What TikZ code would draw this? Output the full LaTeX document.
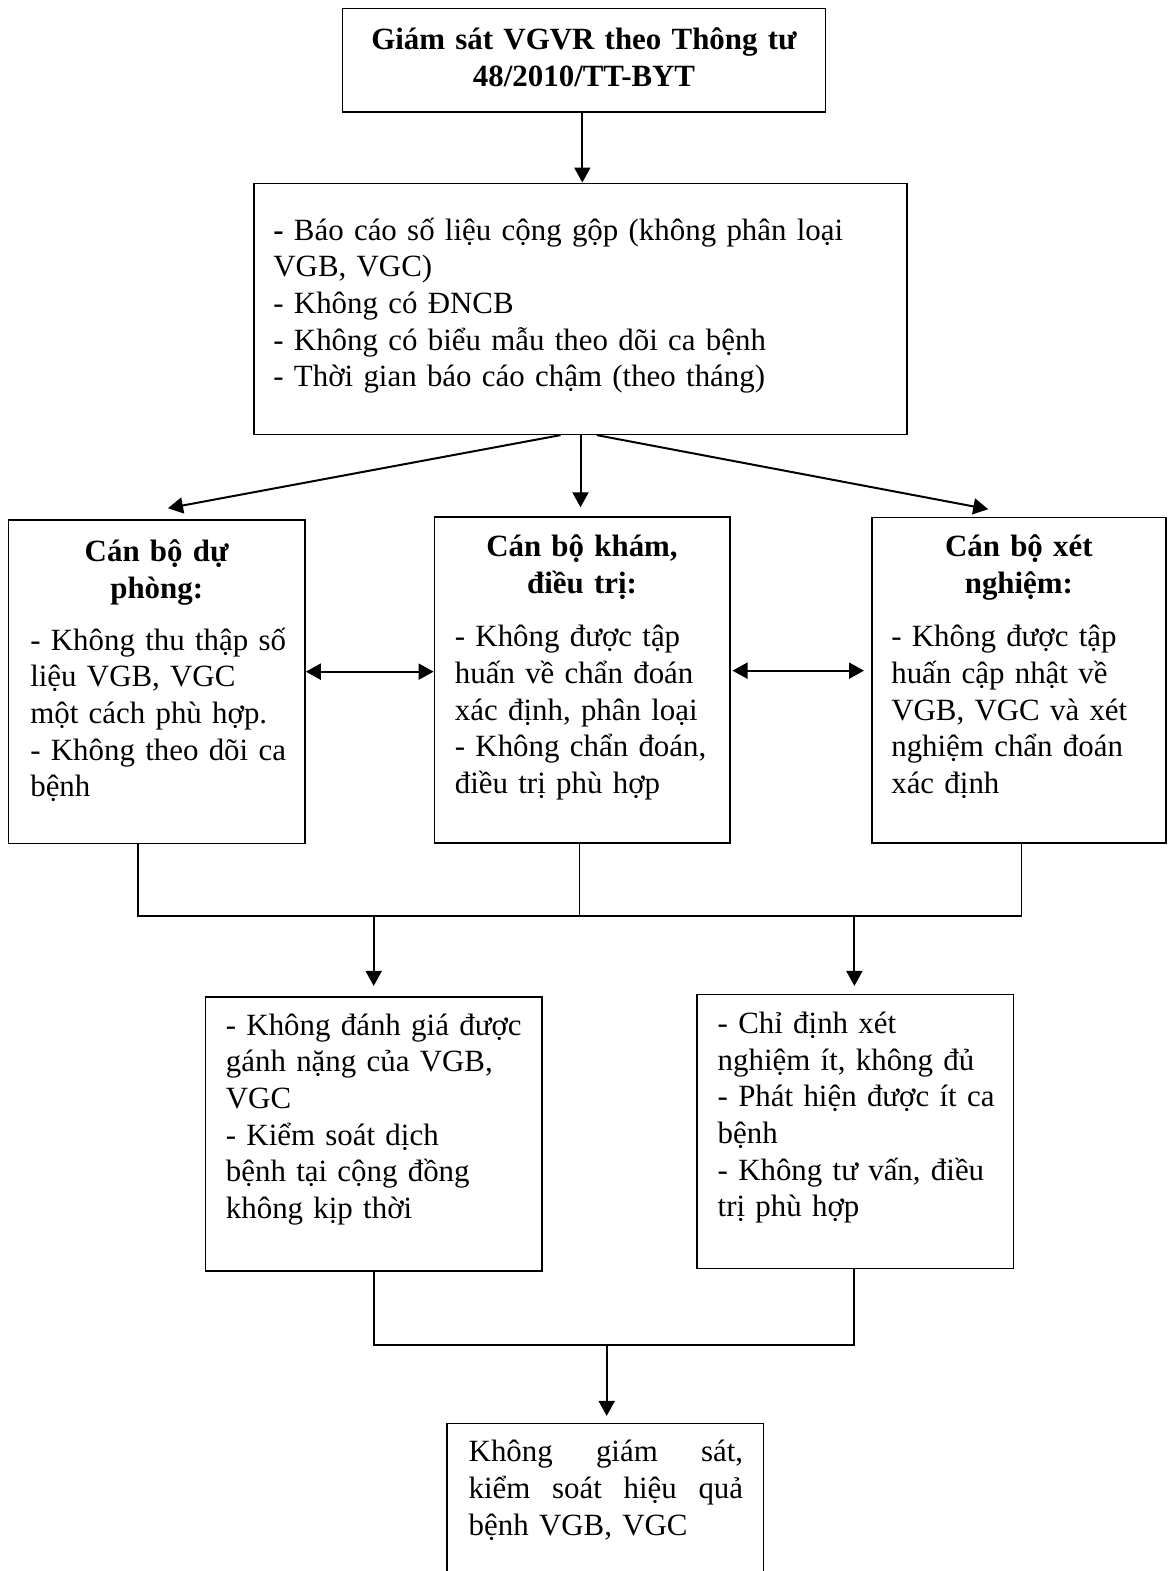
\documentclass[tikz,border=0pt]{standalone}
\usepackage{fontspec}
\setmainfont{Liberation Serif}
\usetikzlibrary{arrows.meta,fit}
\begin{document}
\begin{tikzpicture}[x=0.5pt,y=-0.5pt,
  box/.style={draw, line width=0.8pt, inner sep=0pt},
  arr/.style={-{Triangle[length=7.5pt,width=8pt]}, line width=1pt},
  darr/.style={{Triangle[length=7.5pt,width=8pt]}-{Triangle[length=7.5pt,width=8pt]}, line width=1pt},
  conn/.style={line width=0.8pt},
  body/.style={anchor=base west, inner sep=0pt, align=left, text width=#1, font=\fontsize{15.45pt}{18.35pt}\selectfont},
  head/.style={anchor=base, inner sep=0pt, align=center, text width=#1, font=\bfseries\fontsize{15.45pt}{18.35pt}\selectfont}]
\useasboundingbox (0,0) rectangle (1169,1571);
\clip (0,0) rectangle (1169,1571);
% boxes
\node[box, fit={(342.6,8.3) (825.3,111.7)}] (top) {};
\node[box, fit={(254,183.3) (907,434.3)}] (b2) {};
\node[box, fit={(8.4,520) (305,843.3)}] (L) {};
\node[box, fit={(434.4,516.7) (729.7,843)}] (M) {};
\node[box, fit={(871.8,517.3) (1165.9,843)}] (R) {};
\node[box, fit={(205.3,996.7) (542,1270.7)}] (BL) {};
\node[box, fit={(697,994.3) (1013.6,1268.3)}] (BR) {};
\node[box, fit={(446.7,1423.3) (763.3,1620)}] (F) {};
% texts
\node[head=235pt] (tTop) at (584,49.3) {Giám sát VGVR theo Thông tư\\48/2010/TT-BYT};
\node[body=310pt] (tb2) at (273,240) {\textbf{-} Báo cáo số liệu cộng gộp (không phân loại\\VGB, VGC)\\- Không có ĐNCB\\- Không có biểu mẫu theo dõi ca bệnh\\- Thời gian báo cáo chậm (theo tháng)};
\node[head=140pt] (hL) at (156.7,561.7) {Cán bộ dự\\phòng:};
\node[body=140pt] (tL) at (29.9,650) {- Không thu thập số\\liệu VGB, VGC\\một cách phù hợp.\\- Không theo dõi ca\\bệnh};
\node[head=140pt] (hM) at (582,556.7) {Cán bộ khám,\\điều trị:};
\node[body=140pt] (tM) at (454.5,646.7) {- Không được tập\\huấn về chẩn đoán\\xác định, phân loại\\- Không chẩn đoán,\\điều trị phù hợp};
\node[head=140pt] (hR) at (1018.9,556.7) {Cán bộ xét\\nghiệm:};
\node[body=140pt] (tR) at (890.9,646.7) {- Không được tập\\huấn cập nhật về\\VGB, VGC và xét\\nghiệm chẩn đoán\\xác định};
\node[body=160pt] (tBL) at (225.5,1035) {- Không đánh giá được\\gánh nặng của VGB,\\VGC\\- Kiểm soát dịch\\bệnh tại cộng đồng\\không kịp thời};
\node[body=150pt] (tBR) at (717.3,1033.3) {- Chỉ định xét\\nghiệm ít, không đủ\\- Phát hiện được ít ca\\bệnh\\- Không tư vấn, điều\\trị phù hợp};
\node[body=137.2pt] (tF) at (468.3,1461.7) {\makebox[137.2pt][l]{Không\hfill giám\hfill sát,}\\\makebox[137.2pt][l]{kiểm\hfill soát\hfill hiệu\hfill quả}\\bệnh VGB, VGC};
% connectors
\draw[arr] ([xshift=-0.8pt]top.south) -- ([xshift=-0.8pt]top.south |- b2.north);
\draw[arr, shorten >=4.3pt] (b2.south) -- (b2.south |- M.north);
\draw[arr] ([xshift=-9.95pt]b2.south) -- ([xshift=5.65pt,yshift=5.5pt]L.north);
\draw[arr] ([xshift=8.1pt]b2.south) -- ([xshift=-15.3pt,yshift=3.65pt]R.north);
\draw[darr] ([yshift=5pt]L.east) -- ([yshift=5pt]L.east -| M.west);
\draw[darr, shorten <=1pt, shorten >=3.5pt] ([yshift=4.6pt]M.east) -- ([yshift=4.6pt]M.east -| R.west);
% bus 1
\coordinate (busL) at (138,915.7);
\coordinate (busM) at (579.5,915.7);
\coordinate (busR) at (1021.6,915.7);
\coordinate (dropL) at (373.7,915.7);
\coordinate (dropR) at (854.4,915.7);
\draw[conn] (L.south -| busL) -- (busL) -- (busR) -- (R.south -| busR);
\draw[conn] (M.south -| busM) -- (busM);
\draw[arr, shorten >=5pt] (dropL) -- (BL.north -| dropL);
\draw[arr, shorten >=3.8pt] (dropR) -- (BR.north -| dropR);
% bus 2
\coordinate (bus2L) at (374,1345);
\coordinate (bus2M) at (606.7,1345);
\coordinate (bus2R) at (854,1345);
\draw[conn] (BL.south -| bus2L) -- (bus2L) -- (bus2R) -- (BR.south -| bus2R);
\draw[arr, shorten >=3.3pt] (bus2M) -- (F.north -| bus2M);
\end{tikzpicture}
\end{document}
